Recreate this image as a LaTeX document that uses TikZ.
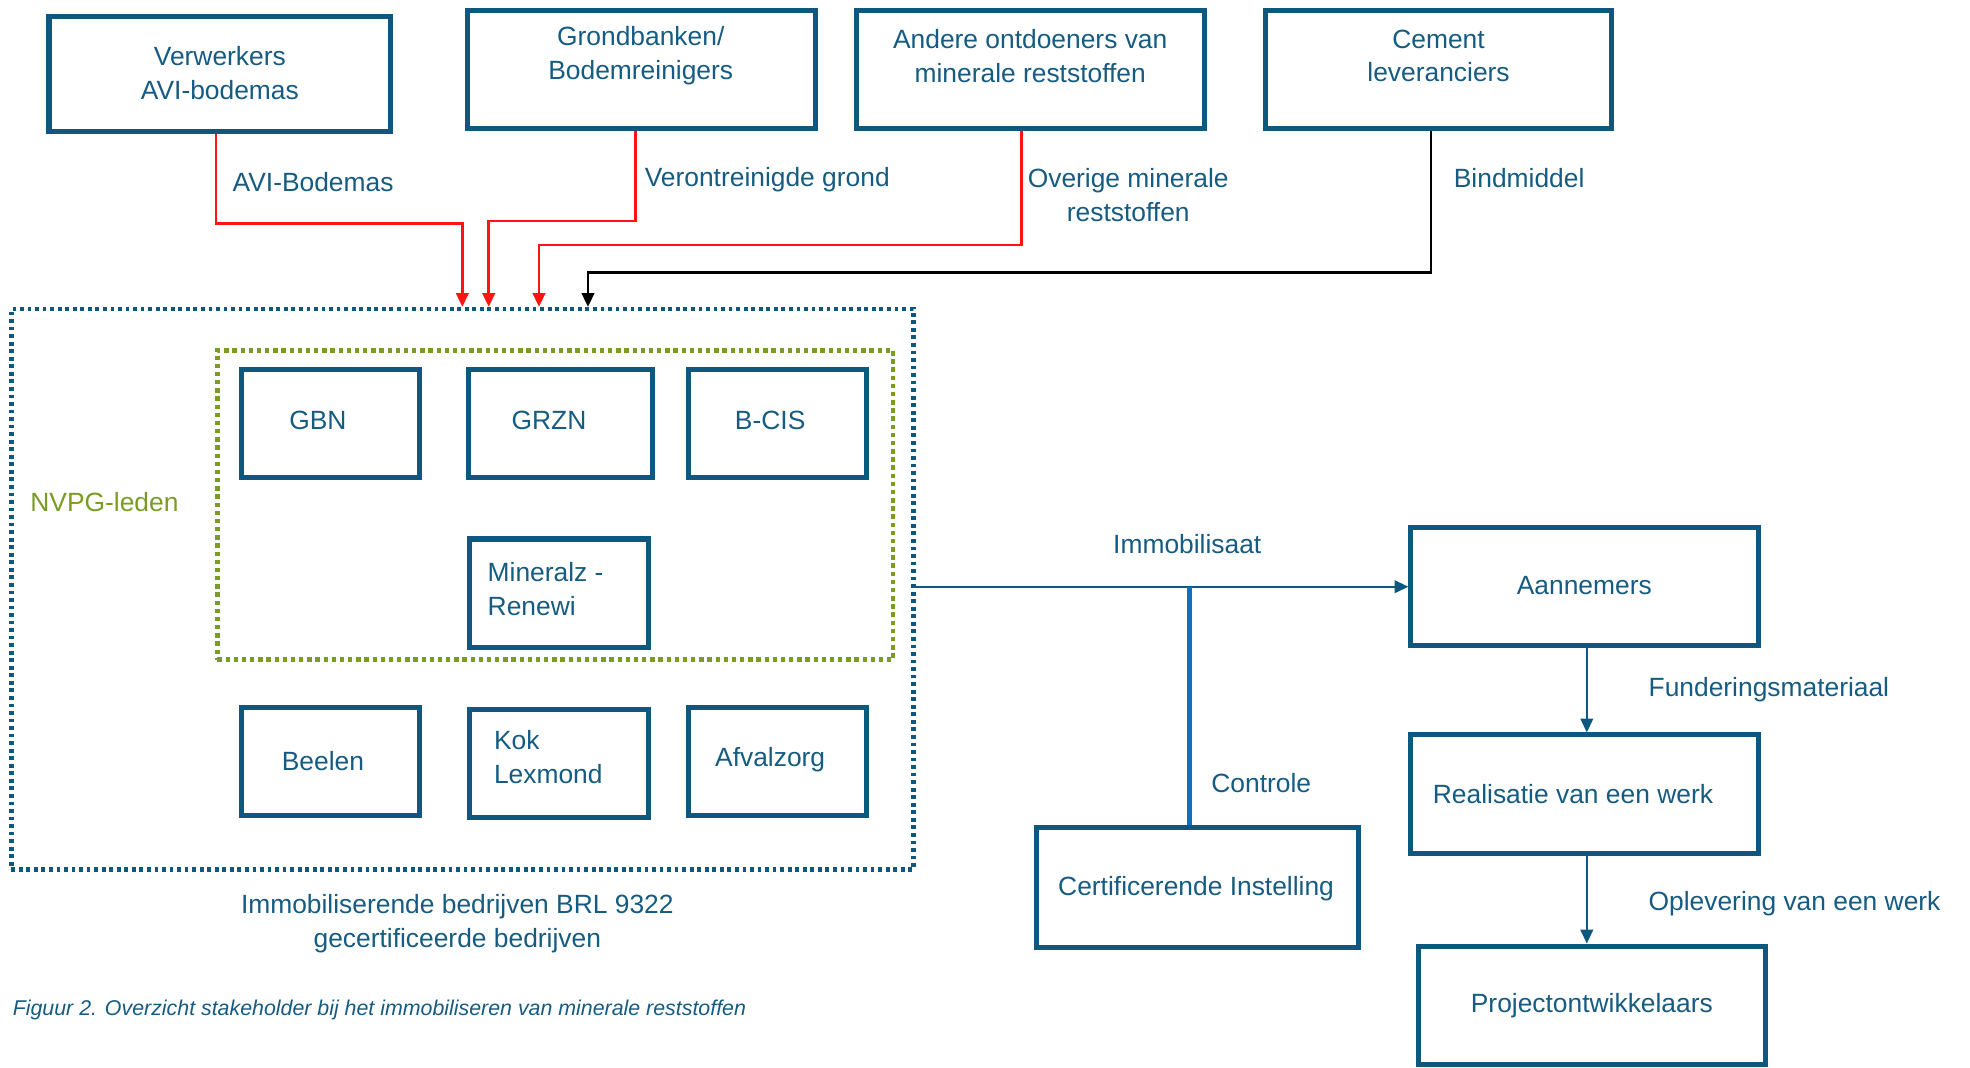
\documentclass[tikz,border=0pt]{standalone}
\usepackage{fontspec}
\setmainfont{Liberation Sans}
\usetikzlibrary{arrows.meta}
\definecolor{boxc}{RGB}{14,88,128}
\definecolor{txtc}{RGB}{22,92,130}
\definecolor{nvpg}{RGB}{122,156,36}
\definecolor{ctrlc}{RGB}{16,112,190}
\definecolor{redc}{RGB}{255,20,20}
\tikzset{
  box/.style={draw=boxc, line width=4pt, minimum width=#1, minimum height=93pt, inner sep=0pt, text=txtc},
  box/.default=275pt,
  smallbox/.style={draw=boxc, line width=4pt, minimum width=142pt, minimum height=86pt, inner sep=0pt, text=txtc},
  txt/.style={text=txtc, font=\fontsize{21}{27}\selectfont, inner sep=0pt, align=center},
  txtl/.style={text=txtc, font=\fontsize{21}{27}\selectfont, inner sep=0pt, align=left},
  redarrow/.style={draw=redc, line width=2pt, -{Triangle[width=10pt,length=11pt]}},
  blackarrow/.style={draw=black, line width=2pt, -{Triangle[width=10pt,length=11pt]}},
  bluearrow/.style={draw=boxc, line width=1.6pt, -{Triangle[width=10pt,length=11pt]}},
}
\begin{document}
\begin{tikzpicture}[x=1pt,y=-1pt]
\useasboundingbox[fill=white] (0,0) rectangle (1568,850);

% top boxes
\node[box=272pt, minimum height=92pt] (verw) at (175,59) {};
\node[txt] (verwT) at (175,58.5) {Verwerkers\\AVI-bodemas};
\node[box=277pt, minimum height=94pt] (grond) at (510.5,55) {};
\node[txt] (grondT) at (510,44.5) {Grondbanken/\\Bodemreinigers};
\node[box=277pt, minimum height=94pt] (andere) at (820.5,55) {};
\node[txt] (andereT) at (820,44.5) {Andere ontdoeners van\\minerale reststoffen};
\node[box=276pt, minimum height=94pt] (cem) at (1145,55) {};
\node[txt] (cemT) at (1145,44.5) {Cement\\leveranciers};

% outer dotted box
\node[draw=boxc, line width=3.5pt, dash pattern=on 3pt off 3pt, minimum width=718pt, minimum height=446pt, inner sep=0pt] (outer) at (368,469) {};
% green dotted box
\node[draw=nvpg, line width=3.5pt, dash pattern=on 3.5pt off 3pt, minimum width=538pt, minimum height=246pt, inner sep=0pt] (nvpgbox) at (442,402) {};
\node[text=nvpg, font=\fontsize{21}{27}\selectfont, inner sep=0pt, anchor=west] (nvpgT) at (24,400) {NVPG-leden};

% inner boxes
\node[smallbox] (gbn) at (263,337) {};
\node[txt] (gbnT) at (253,335) {GBN};
\node[smallbox, minimum width=146pt] (grzn) at (446,337) {};
\node[txt] (grznT) at (437,335) {GRZN};
\node[smallbox] (bcis) at (619,337) {};
\node[txt] (bcisT) at (613,335) {B-CIS};
\node[smallbox] (minz) at (445,472) {};
\node[txtl, anchor=west] (minzT) at (388,468.5) {Mineralz -\\Renewi};
\node[smallbox] (beel) at (263,606) {};
\node[txt] (beelT) at (257,606) {Beelen};
\node[smallbox] (kok) at (445,608) {};
\node[txtl, anchor=west] (kokT) at (393,602.5) {Kok\\Lexmond};
\node[smallbox] (afv) at (619,606) {};
\node[txt] (afvT) at (613,605) {Afvalzorg};

\node[txt] (outerT) at (364,735.5) {Immobiliserende bedrijven BRL 9322\\gecertificeerde bedrijven};

% right side boxes
\node[box=277pt, minimum height=94pt] (aan) at (1261.5,467) {};
\node[txt] (aanT) at (1261,466) {Aannemers};
\node[box=277pt, minimum height=94pt] (real) at (1261.5,632) {};
\node[txt] (realT) at (1252,632) {Realisatie van een werk};
\node[box=276pt, minimum height=94pt] (proj) at (1267,800) {};
\node[txt] (projT) at (1267,800.5) {Projectontwikkelaars};
\node[box=256pt, minimum height=95pt] (cert) at (953,706.5) {};
\node[txt] (certT) at (952,707.5) {Certificerende Instelling};

% incoming arrows
\draw[redarrow] ([xshift=-3pt]verw.south) -- ([xshift=-3pt]verw.south |- 0,178) -| (outer.north);
\draw[redarrow] ([xshift=-4.5pt]grond.south) -- ([xshift=-4.5pt]grond.south |- 0,176) -| ([xshift=21pt]outer.north);
\draw[redarrow] ([xshift=-7.5pt]andere.south) -- ([xshift=-7.5pt]andere.south |- 0,195) -| ([xshift=61pt]outer.north);
\draw[blackarrow] ([xshift=-6pt]cem.south) -- ([xshift=-6pt]cem.south |- 0,217) -| ([xshift=100pt]outer.north);

\node[txtl, anchor=west] (l1) at (185,145) {AVI-Bodemas};
\node[txtl, anchor=west] (l2) at (513,143) {Verontreinigde grond};
\node[txt] (l3) at (898,155.5) {Overige minerale\\reststoffen};
\node[txtl, anchor=west] (l4) at (1157,142) {Bindmiddel};

% outgoing
\draw[bluearrow] (outer.east |- aan.west) -- (aan.west);
\node[txt] (immT) at (945,433) {Immobilisaat};
\coordinate (ctrl) at (947,467);
\draw[draw=ctrlc, line width=4pt] (ctrl) -- (ctrl |- cert.north);
\node[txtl, anchor=west] (ctrlT) at (964,623) {Controle};

\draw[bluearrow] ([xshift=1.5pt]aan.south) -- ([xshift=1.5pt]real.north);
\node[txtl, anchor=west] (fundT) at (1312,549) {Funderingsmateriaal};
\draw[bluearrow] ([xshift=1.5pt]real.south) -- ([xshift=1.5pt]real.south |- proj.north);
\node[txtl, anchor=west] (oplT) at (1312,719) {Oplevering van een werk};

\node[text=txtc, font=\fontsize{17}{20}\selectfont\itshape, inner sep=0pt, anchor=west] (cap) at (10,804) {Figuur 2. Overzicht stakeholder bij het immobiliseren van minerale reststoffen};
\end{tikzpicture}
\end{document}
